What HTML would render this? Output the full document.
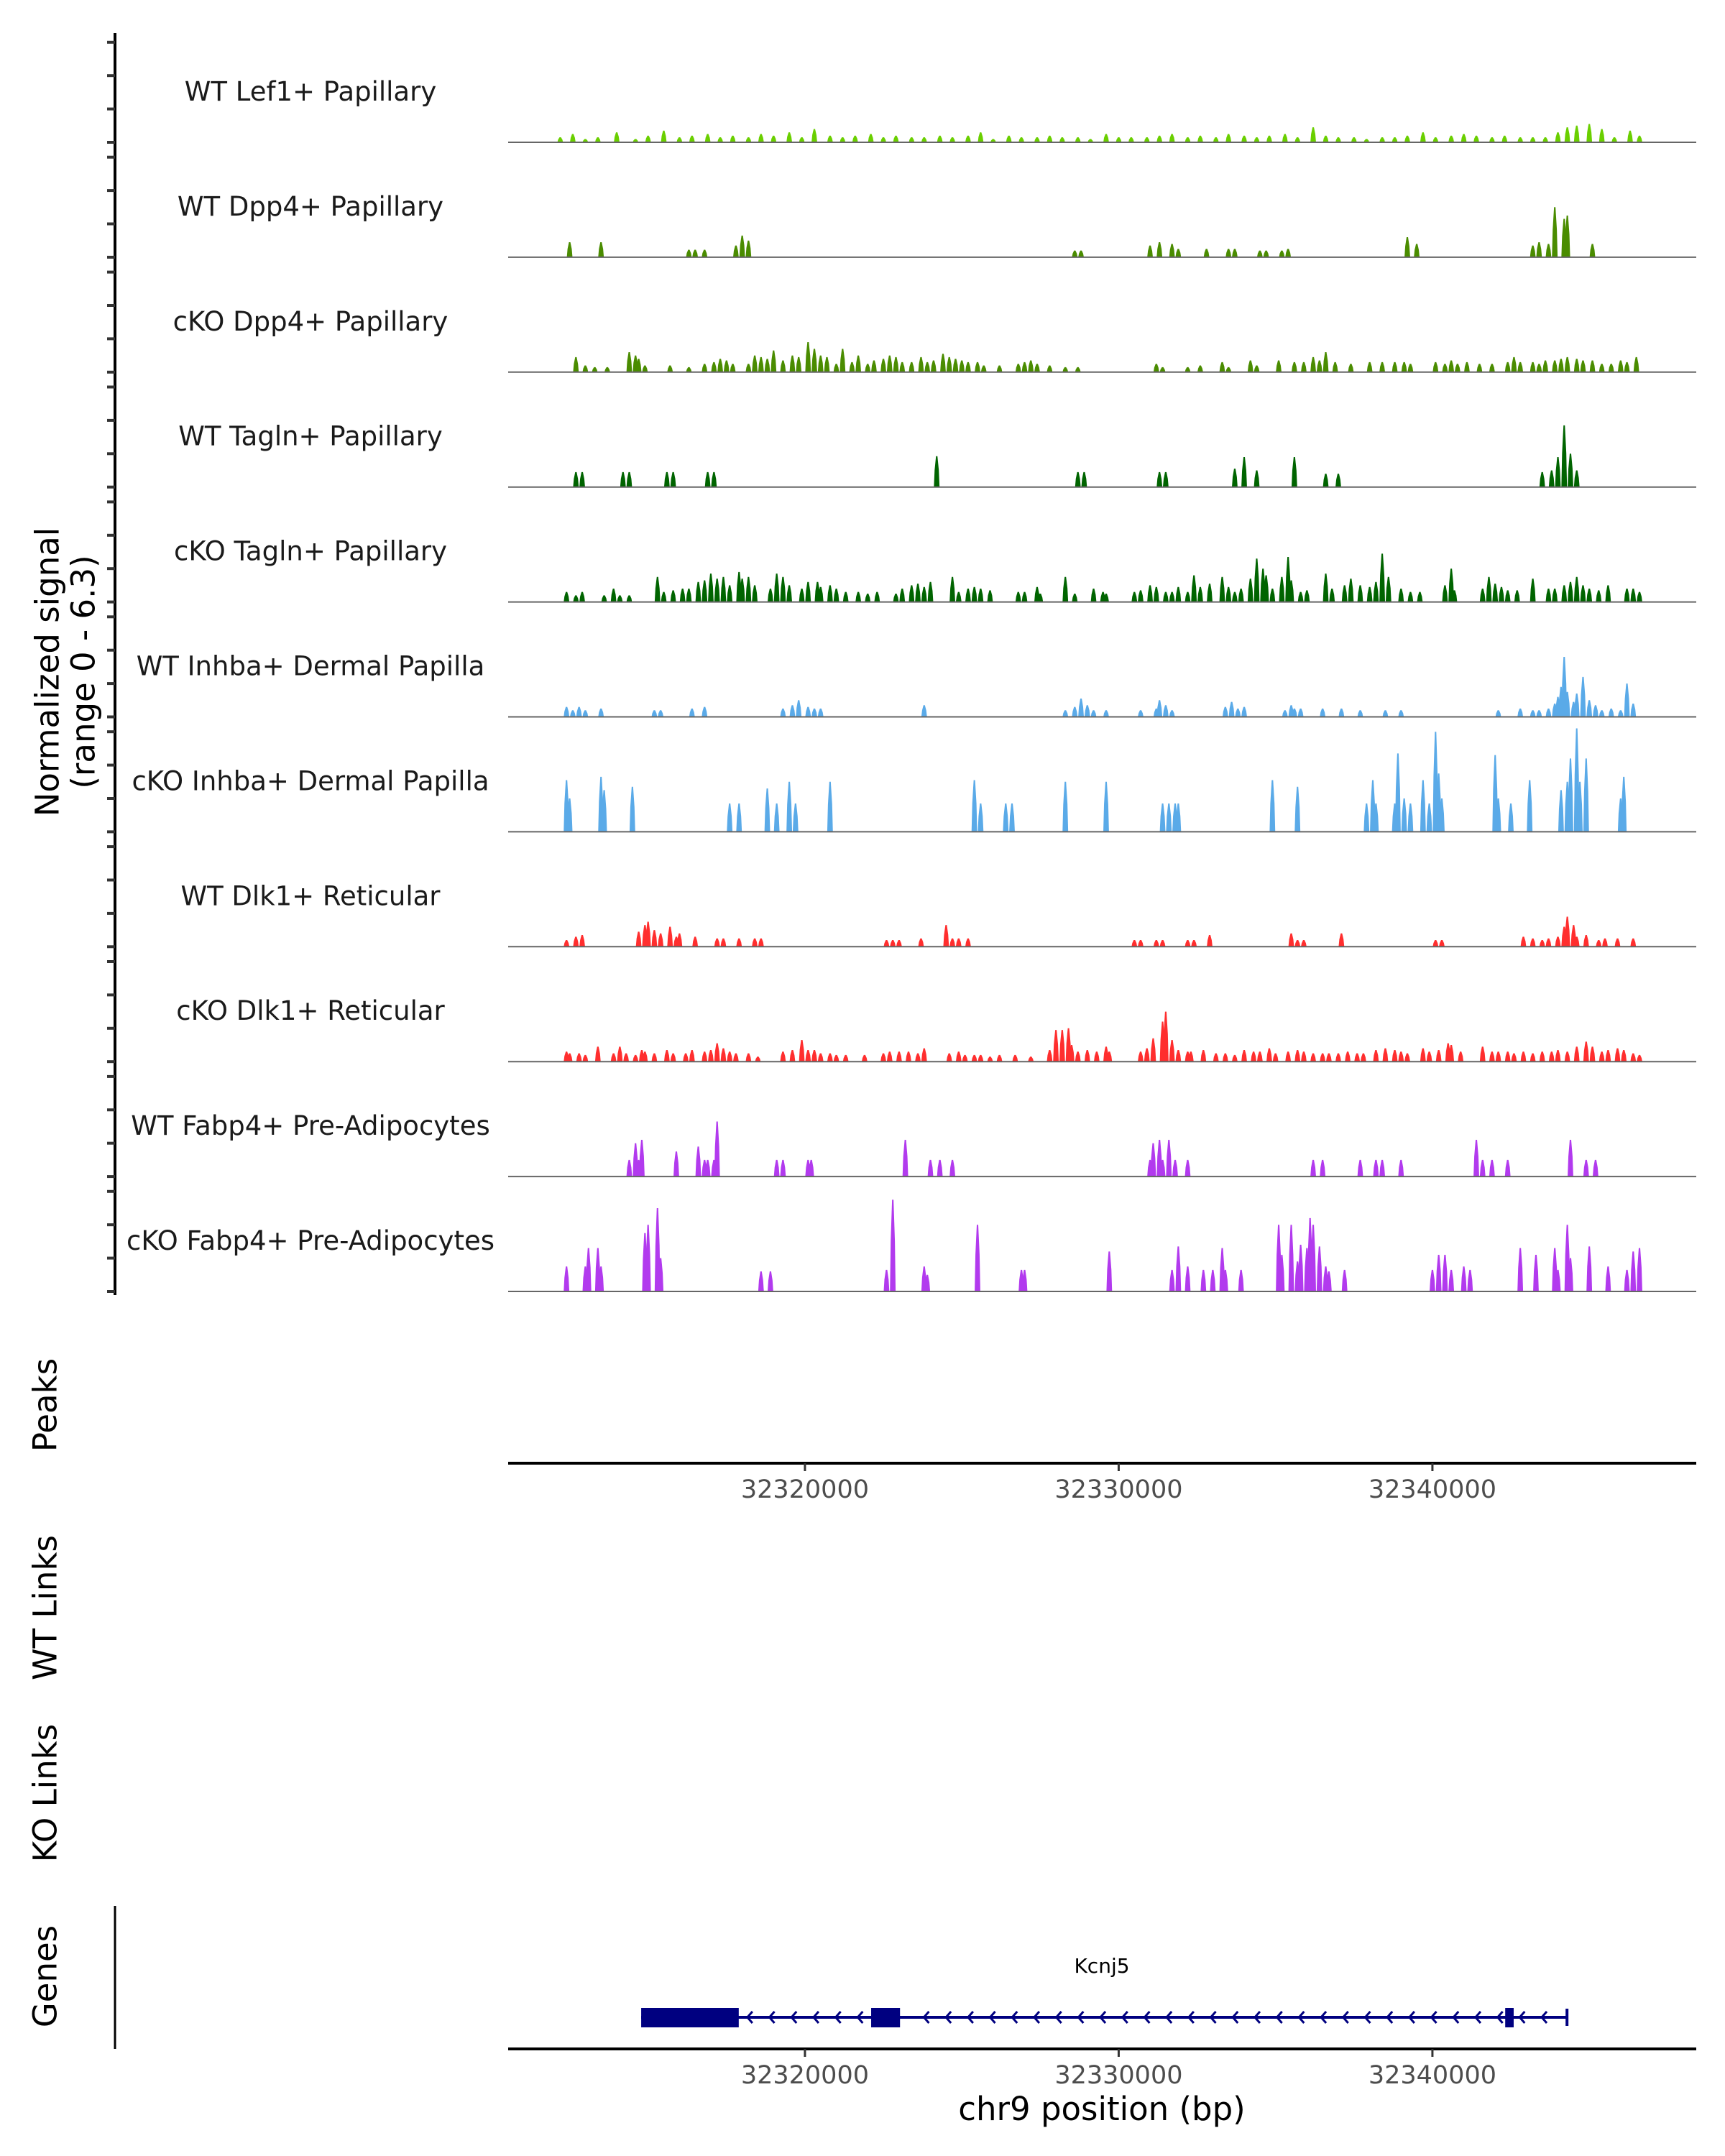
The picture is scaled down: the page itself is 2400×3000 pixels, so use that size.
<!DOCTYPE html>
<html><head><meta charset="utf-8"><title>Coverage plot Kcnj5</title>
<style>
html,body{margin:0;padding:0;background:#fff;}
svg{display:block;font-family:"DejaVu Sans","Liberation Sans",sans-serif;}
</style></head>
<body>
<svg id="chart" xmlns="http://www.w3.org/2000/svg" width="2400" height="3000" viewBox="0 0 2400 3000">
<rect x="0" y="0" width="2400" height="3000" fill="#fff"/>
<g id="tracks"></g>
<g id="axes"></g>
<g id="genes"></g>
</svg>
<script>
// ---- data (positions in kb on chr9, values are normalized signal 0-6.3) ----
const trackNames = ["WT Lef1+ Papillary","WT Dpp4+ Papillary","cKO Dpp4+ Papillary","WT Tagln+ Papillary","cKO Tagln+ Papillary","WT Inhba+ Dermal Papilla","cKO Inhba+ Dermal Papilla","WT Dlk1+ Reticular","cKO Dlk1+ Reticular","WT Fabp4+ Pre-Adipocytes","cKO Fabp4+ Pre-Adipocytes"];
const trackColors = ["#6ACF00","#4A8C00","#4A8C00","#006400","#006400","#5AAAE8","#5AAAE8","#FF2E2E","#FF2E2E","#B23AEE","#B23AEE"];
const xTicks = [32320000,32330000,32340000];
const yTickValues = [0,2,4,6];

const lef1Pos = [32312.2,32312.6,32313.0,32313.4,32314.0,32314.6,32315.0,32315.5,32316.0,32316.4,32316.9,32317.3,32317.7,32318.2,32318.6,32319.0,32319.5,32319.9,32320.3,32320.8,32321.2,32321.6,32322.1,32322.5,32322.9,32323.4,32323.8,32324.3,32324.7,32325.2,32325.6,32326.0,32326.5,32326.9,32327.4,32327.8,32328.2,32328.7,32329.1,32329.6,32330.0,32330.4,32330.9,32331.3,32331.7,32332.2,32332.6,32333.1,32333.5,32334.0,32334.4,32334.8,32335.3,32335.7,32336.2,32336.6,32337.0,32337.5,32337.9,32338.4,32338.8,32339.2,32339.7,32340.1,32340.6,32341.0,32341.4,32341.9,32342.3,32342.8,32343.2,32343.6,32344.0,32344.3,32344.6,32345.0,32345.4,32345.8,32346.3,32346.6];
const lef1Val = [.3,.5,.2,.3,.6,.2,.4,.7,.3,.4,.5,.3,.4,.3,.5,.4,.6,.3,.8,.4,.3,.4,.5,.3,.4,.3,.3,.4,.3,.4,.6,.2,.4,.3,.3,.4,.3,.3,.2,.5,.3,.3,.3,.4,.5,.3,.4,.3,.5,.4,.3,.4,.5,.3,.9,.4,.3,.3,.2,.3,.3,.4,.6,.3,.4,.5,.4,.3,.4,.3,.3,.3,.6,.9,1.0,1.1,.8,.3,.7,.4];

const wtDpp4Pos = [32312.5,32313.5,32316.3,32316.5,32316.8,32317.8,32318.0,32318.2,32328.6,32328.8,32331.0,32331.3,32331.7,32331.9,32332.8,32333.5,32333.7,32334.5,32334.7,32335.2,32335.4,32339.2,32339.5,32343.2,32343.4,32343.7,32343.9,32344.2,32344.3,32345.1];
const wtDpp4Val = [.9,.9,.45,.45,.45,.7,1.3,1.0,.4,.4,.7,.9,.8,.5,.5,.5,.5,.4,.4,.4,.5,1.2,.8,.7,.9,.8,3.0,2.3,2.5,.8];

const koDpp4Pos = [32312.7,32313.0,32313.3,32313.7,32314.4,32314.6,32314.7,32314.9,32315.7,32316.3,32316.8,32317.1,32317.3,32317.5,32317.7,32318.2,32318.4,32318.6,32318.8,32319.0,32319.3,32319.6,32319.8,32320.1,32320.3,32320.5,32320.7,32321.0,32321.2,32321.5,32321.7,32322.0,32322.2,32322.5,32322.7,32322.9,32323.1,32323.4,32323.7,32323.9,32324.1,32324.4,32324.6,32324.8,32325.0,32325.2,32325.5,32325.7,32326.2,32326.8,32327.0,32327.2,32327.4,32327.8,32328.3,32328.7,32331.2,32331.4,32332.2,32332.6,32333.3,32333.5,32334.2,32334.4,32335.1,32335.6,32335.9,32336.2,32336.4,32336.6,32336.9,32337.4,32338.0,32338.4,32338.8,32339.1,32339.3,32340.1,32340.4,32340.6,32340.8,32341.1,32341.5,32341.9,32342.4,32342.6,32342.8,32343.2,32343.4,32343.6,32343.9,32344.1,32344.3,32344.6,32344.8,32345.1,32345.4,32345.7,32346.0,32346.2,32346.5];
const koDpp4Val = [.9,.4,.3,.3,1.2,1.0,.8,.4,.4,.3,.5,.6,.8,.7,.5,.5,1.0,.9,.8,1.3,.7,1.0,.9,1.8,1.4,1.0,.9,.5,1.4,.6,1.0,.5,.7,.8,1.0,.9,.6,.6,.9,.6,.7,1.1,.9,.8,.7,.6,.6,.4,.4,.5,.6,.7,.5,.4,.3,.3,.5,.3,.3,.4,.6,.3,.7,.4,.7,.6,.6,.9,.7,1.2,.6,.5,.6,.6,.6,.6,.5,.6,.5,.7,.5,.6,.5,.5,.6,.9,.6,.6,.5,.7,.7,.8,.9,.8,.7,.7,.5,.5,.7,.6,.9];

const wtTaglnPos = [32312.7,32312.9,32314.2,32314.4,32315.6,32315.8,32316.9,32317.1,32324.2,32328.7,32328.9,32331.3,32331.5,32333.7,32334.0,32334.4,32335.6,32336.6,32337.0,32343.5,32343.8,32344.0,32344.2,32344.4,32344.6];
const wtTaglnVal = [.9,.9,.9,.9,.9,.9,.9,.9,1.85,.9,.9,.9,.9,1.1,1.8,1.0,1.8,.8,.8,.9,1.0,1.8,3.7,2.0,1.0];

const koTaglnPos = [32312.4,32312.7,32312.9,32313.6,32313.9,32314.1,32314.4,32315.3,32315.5,32315.8,32316.1,32316.3,32316.6,32316.8,32317.0,32317.2,32317.4,32317.6,32317.9,32318.0,32318.2,32318.4,32318.9,32319.1,32319.3,32319.5,32319.9,32320.1,32320.4,32320.5,32320.8,32321.0,32321.3,32321.7,32322.0,32322.3,32322.9,32323.1,32323.4,32323.6,32323.8,32324.0,32324.7,32324.9,32325.2,32325.4,32325.6,32325.9,32326.8,32327.0,32327.4,32327.5,32328.3,32328.6,32329.2,32329.5,32329.6,32330.5,32330.7,32331.0,32331.2,32331.5,32331.7,32331.9,32332.2,32332.4,32332.6,32332.9,32333.3,32333.5,32333.7,32333.9,32334.2,32334.4,32334.6,32334.7,32334.9,32335.2,32335.4,32335.5,32335.8,32336.0,32336.6,32336.8,32337.2,32337.4,32337.7,32338.0,32338.2,32338.4,32338.6,32339.0,32339.3,32339.6,32340.4,32340.6,32340.7,32341.6,32341.8,32342.0,32342.2,32342.4,32342.7,32343.2,32343.7,32343.9,32344.2,32344.4,32344.6,32344.8,32345.0,32345.3,32345.6,32346.2,32346.4,32346.6];
const koTaglnVal = [.6,.4,.6,.4,.8,.4,.4,1.5,.6,.7,.8,.8,1.2,1.3,1.7,1.4,1.5,1.0,1.8,1.4,1.5,1.0,.8,1.7,1.5,1.0,.8,1.2,1.2,.9,1.0,.8,.6,.6,.5,.6,.5,.8,1.0,1.1,.9,1.2,1.5,.6,.8,.9,.8,.7,.6,.6,.9,.5,1.5,.5,.8,.6,.5,.6,.7,1.0,.9,.6,.6,.9,.6,1.6,.9,1.1,1.5,.9,.6,.8,1.4,2.6,2.0,1.6,.8,1.5,2.7,1.3,.6,.7,1.7,.8,1.0,1.4,1.0,.9,1.2,2.9,1.5,.8,.6,.6,1.0,2.0,.7,.8,1.5,1.1,.9,.7,.7,1.4,.8,.8,1.0,1.2,1.5,1.0,.8,.7,1.0,.8,.8,.6];

const wtInhbaPos = [32312.4,32312.6,32312.8,32313.0,32313.5,32315.2,32315.4,32316.4,32316.8,32319.3,32319.6,32319.8,32320.1,32320.3,32320.5,32323.8,32328.3,32328.6,32328.8,32329.0,32329.2,32329.6,32330.7,32331.2,32331.3,32331.5,32331.7,32333.4,32333.6,32333.8,32334.0,32335.3,32335.5,32335.6,32335.8,32336.5,32337.1,32337.7,32338.5,32339.0,32342.1,32342.8,32343.2,32343.4,32343.7,32343.9,32344.0,32344.1,32344.2,32344.3,32344.5,32344.6,32344.8,32345.0,32345.2,32345.4,32345.7,32346.0,32346.2,32346.4];
const wtInhbaVal = [.6,.4,.6,.4,.5,.4,.4,.5,.6,.5,.7,1.0,.6,.5,.5,.7,.4,.6,1.1,.7,.4,.4,.4,.5,1.0,.7,.4,.6,.9,.5,.6,.4,.7,.5,.5,.5,.5,.4,.4,.4,.4,.5,.4,.4,.5,.8,1.2,1.8,3.6,1.5,.9,1.4,2.4,1.0,.7,.4,.5,.4,2.0,.8];

const koInhbaPos = [32312.4,32312.5,32313.5,32313.6,32314.5,32317.6,32317.9,32318.8,32319.1,32319.5,32319.7,32320.8,32325.4,32325.6,32326.4,32326.6,32328.3,32329.6,32331.4,32331.6,32331.8,32331.9,32334.9,32335.7,32337.9,32338.1,32338.2,32338.8,32338.9,32339.1,32339.3,32339.7,32339.9,32340.1,32340.2,32340.3,32342.0,32342.1,32342.5,32343.1,32344.1,32344.3,32344.4,32344.6,32344.7,32344.9,32346.0,32346.1];
const koInhbaVal = [3.1,2.0,3.3,2.5,2.7,1.7,1.7,2.6,1.7,3.0,1.7,3.0,3.1,1.7,1.7,1.7,3.0,3.0,1.7,1.7,1.7,1.7,3.1,2.7,1.7,3.1,1.7,1.7,4.7,2.0,1.7,3.1,1.7,6.0,3.5,2.0,4.6,2.0,1.7,3.1,2.5,3.0,4.4,6.2,3.0,4.4,2.0,3.3];

const wtDlk1Pos = [32312.4,32312.7,32312.9,32314.7,32314.9,32315.0,32315.2,32315.4,32315.7,32315.9,32316.0,32316.5,32317.2,32317.4,32317.9,32318.4,32318.6,32322.6,32322.8,32323.0,32323.7,32324.5,32324.7,32324.9,32325.2,32330.5,32330.7,32331.2,32331.4,32332.2,32332.4,32332.9,32335.5,32335.7,32335.9,32337.1,32340.1,32340.3,32342.9,32343.2,32343.5,32343.7,32344.0,32344.2,32344.3,32344.5,32344.6,32344.9,32345.3,32345.5,32345.9,32346.4];
const wtDlk1Val = [.4,.6,.7,.9,1.3,1.5,1.0,.8,1.2,.6,.8,.6,.5,.5,.5,.5,.5,.4,.4,.4,.5,1.3,.5,.5,.5,.4,.4,.4,.4,.4,.4,.7,.8,.4,.4,.8,.4,.4,.6,.5,.4,.5,.6,1.2,1.8,1.3,.6,.7,.4,.5,.5,.5];

const koDlk1Pos = [32312.4,32312.5,32312.8,32313.0,32313.4,32313.9,32314.1,32314.3,32314.6,32314.8,32314.9,32315.2,32315.6,32315.8,32316.2,32316.4,32316.8,32317.0,32317.2,32317.4,32317.6,32317.8,32318.2,32318.5,32319.3,32319.6,32319.9,32320.1,32320.3,32320.5,32320.8,32321.0,32321.3,32321.9,32322.5,32322.7,32323.0,32323.3,32323.6,32323.8,32324.6,32324.9,32325.1,32325.4,32325.6,32325.9,32326.2,32326.7,32327.2,32327.8,32328.0,32328.2,32328.4,32328.5,32328.7,32329.0,32329.3,32329.6,32329.7,32330.7,32330.9,32331.1,32331.4,32331.5,32331.7,32331.9,32332.2,32332.3,32332.7,32333.1,32333.4,32333.7,32334.0,32334.3,32334.5,32334.8,32335.0,32335.4,32335.7,32335.9,32336.2,32336.5,32336.7,32337.0,32337.3,32337.6,32337.8,32338.2,32338.5,32338.8,32339.0,32339.2,32339.7,32339.9,32340.2,32340.5,32340.6,32340.9,32341.6,32341.9,32342.1,32342.4,32342.6,32342.9,32343.2,32343.5,32343.8,32344.0,32344.3,32344.6,32344.9,32345.1,32345.4,32345.6,32345.9,32346.1,32346.4,32346.6];
const koDlk1Val = [.6,.5,.5,.4,.9,.5,.9,.5,.4,.7,.6,.5,.7,.5,.5,.7,.6,.7,1.1,.8,.6,.5,.5,.3,.6,.7,1.3,.7,.7,.5,.5,.4,.4,.4,.5,.6,.6,.6,.5,.8,.5,.6,.4,.4,.4,.3,.4,.4,.3,.7,1.9,1.9,2.0,1.0,.6,.7,.6,.9,.6,.6,.8,1.4,2.4,3.0,1.3,.7,.6,.6,.7,.5,.5,.4,.7,.6,.6,.8,.5,.6,.7,.6,.5,.5,.5,.5,.6,.5,.5,.7,.8,.7,.6,.5,.8,.6,.7,1.1,1.0,.6,.9,.6,.6,.6,.5,.6,.5,.6,.6,.7,.6,.9,1.2,.9,.6,.7,.8,.7,.5,.4];

const wtFabp4Pos = [32314.4,32314.6,32314.7,32314.8,32315.9,32316.6,32316.8,32316.9,32317.1,32317.2,32319.1,32319.3,32320.1,32320.2,32323.2,32324.0,32324.3,32324.7,32331.0,32331.1,32331.3,32331.4,32331.6,32331.8,32332.2,32336.2,32336.5,32337.7,32338.2,32338.4,32339.0,32341.4,32341.6,32341.9,32342.4,32344.4,32344.9,32345.2];
const wtFabp4Val = [1.0,2.0,1.0,2.2,1.5,1.8,1.0,1.0,1.0,3.3,1.0,1.0,1.0,1.0,2.2,1.0,1.0,1.0,1.0,2.0,2.2,1.0,2.2,1.0,1.0,1.0,1.0,1.0,1.0,1.0,1.0,2.2,1.0,1.0,1.0,2.2,1.0,1.0];

const koFabp4Pos = [32312.4,32313.0,32313.1,32313.4,32313.5,32314.9,32315.0,32315.3,32315.4,32318.6,32318.9,32322.6,32322.8,32323.8,32323.9,32325.5,32326.9,32327.0,32329.7,32331.7,32331.9,32332.2,32332.7,32333.0,32333.3,32333.4,32333.9,32335.1,32335.2,32335.5,32335.7,32335.8,32336.0,32336.1,32336.2,32336.4,32336.6,32336.7,32337.2,32340.0,32340.2,32340.4,32340.6,32341.0,32341.2,32342.8,32343.3,32343.9,32344.0,32344.3,32344.4,32345.0,32345.6,32346.2,32346.4,32346.6];
const koFabp4Val = [1.5,1.5,2.6,2.6,1.5,3.5,4.0,5.0,2.0,1.2,1.2,1.3,5.5,1.5,1.0,4.0,1.3,1.3,2.4,1.3,2.7,1.5,1.3,1.3,2.6,1.3,1.3,4.0,2.2,4.0,1.8,2.8,2.6,4.4,4.0,2.7,1.5,1.2,1.3,1.3,2.2,2.2,1.3,1.5,1.3,2.6,2.2,2.6,1.3,4.0,2.0,2.7,1.5,1.3,2.4,2.6];

const trackPos = [lef1Pos,wtDpp4Pos,koDpp4Pos,wtTaglnPos,koTaglnPos,wtInhbaPos,koInhbaPos,wtDlk1Pos,koDlk1Pos,wtFabp4Pos,koFabp4Pos];
const trackVal = [lef1Val,wtDpp4Val,koDpp4Val,wtTaglnVal,koTaglnVal,wtInhbaVal,koInhbaVal,wtDlk1Val,koDlk1Val,wtFabp4Val,koFabp4Val];

// gene model (kb)
const geneName = "Kcnj5";
const geneStart = 32314.78, geneEnd = 32344.29;
const exonStarts = [32314.78,32322.11,32342.32];
const exonEnds = [32317.89,32323.03,32342.59];

// ---- scales ----
const NS = "http://www.w3.org/2000/svg";
const X0 = 707, X1 = 2360, KB0 = 32310.54, PXPERKB = 43.65;
function xs(kb){ return X0 + (kb - KB0) * PXPERKB; }
const BASE0 = 198, TRACKSTEP = 159.9, PXPERUNIT = 23.2;
function baseY(i){ return BASE0 + i * TRACKSTEP; }
function ys(i, v){ return baseY(i) - v * PXPERUNIT; }
function mk(tag, attrs, parent){
  const e = document.createElementNS(NS, tag);
  for (const k in attrs) e.setAttribute(k, attrs[k]);
  parent.appendChild(e); return e;
}

const gT = document.getElementById('tracks');
const gA = document.getElementById('axes');
const gG = document.getElementById('genes');

for (let i = 0; i < trackNames.length; i++){
  const g = mk('g', {}, gT);
  
  
  const lab = mk('text', {x: 432, y: baseY(i) - 58, 'font-size': 37, 'text-anchor': 'middle', fill: '#1a1a1a'}, g);
  lab.textContent = trackNames[i];
  
  
  const P = trackPos[i], V = trackVal[i];
  const n = Math.min(P.length, V.length);
  const hw = 0.09;
  for (let j = 0; j < n; j++){
    const xl = xs(P[j] - hw), xr = xs(P[j] + hw), xm = xs(P[j]);
    const yb = baseY(i), yt = ys(i, V[j]), ymid = ys(i, V[j] * 0.55);
    const pts = `${xl},${yb} ${xl+1},${ymid} ${xm-1},${yt} ${xm+1},${yt} ${xr-1},${ymid} ${xr},${yb}`;
    const p = mk('polygon', {points: pts, fill: trackColors[i]}, g);
    
    
  }
  const bl = mk('line', {x1: X0, x2: X1, y1: baseY(i), y2: baseY(i), stroke: '#666', 'stroke-width': 2}, g);
  
  
}

const ya = mk('line', {x1: 160, x2: 160, y1: 46, y2: 1802, stroke: '#000', 'stroke-width': 4}, gA);


for (let i = 0; i < trackNames.length; i++){
  for (const v of yTickValues){
    const t = mk('line', {x1: 149, x2: 160, y1: ys(i, v), y2: ys(i, v), stroke: '#333', 'stroke-width': 4}, gA);
    
    
  }
}
function vtext(txt, cx, cy, name, size){
  const t = mk('text', {x: 0, y: 0, 'font-size': size, 'text-anchor': 'middle', 'dominant-baseline': 'central', fill: '#000', transform: `translate(${cx},${cy}) rotate(-90)`}, gA);
  t.textContent = txt;
  
  
}
vtext('Normalized signal', 66, 935, 'y-axis-title', 45);
vtext('(range 0 - 6.3)', 116, 935, 'y-axis-subtitle', 45);
vtext('Peaks', 63, 1955, 'peaks-track-title', 45);
vtext('WT Links', 63, 2237, 'wt-links-track-title', 45);
vtext('KO Links', 63, 2495, 'ko-links-track-title', 45);
vtext('Genes', 63, 2750, 'genes-track-title', 45);

function xAxis(y, name){
  const l = mk('line', {x1: X0, x2: X1, y1: y, y2: y, stroke: '#000', 'stroke-width': 4}, gA);
  
  
  for (const t of xTicks){
    const x = xs(t / 1000);
    const tk = mk('line', {x1: x, x2: x, y1: y, y2: y + 11, stroke: '#333', 'stroke-width': 3}, gA);
    
    
    const tl = mk('text', {x: x, y: y + 48, 'font-size': 35, 'text-anchor': 'middle', fill: '#4d4d4d'}, gA);
    tl.textContent = String(t);
    
    
  }
}
xAxis(2036, 'peaks-x-axis');
xAxis(2851, 'genes-x-axis');
const xt = mk('text', {x: 1533, y: 2950, 'font-size': 45, 'text-anchor': 'middle', fill: '#000'}, gA);
xt.textContent = 'chr9 position (bp)';


const ga = mk('line', {x1: 160, x2: 160, y1: 2652, y2: 2851, stroke: '#000', 'stroke-width': 3}, gA);



const GY = 2807;
const gl = mk('line', {x1: xs(geneStart), x2: xs(geneEnd), y1: GY, y2: GY, stroke: '#000080', 'stroke-width': 4}, gG);


for (let k = 0; k < exonStarts.length; k++){
  const r = mk('rect', {x: xs(exonStarts[k]), y: GY - 13, width: xs(exonEnds[k]) - xs(exonStarts[k]), height: 27, fill: '#000080'}, gG);
  
  
}
for (let x = xs(exonEnds[0]) + 14; x < xs(geneEnd) - 4; x += 30.7){
  let inside = false;
  for (let k = 0; k < exonStarts.length; k++){ if (x > xs(exonStarts[k]) - 6 && x < xs(exonEnds[k]) + 8) inside = true; }
  if (inside) continue;
  const c = mk('polyline', {points: `${x+5},${GY-8} ${x-2},${GY} ${x+5},${GY+8}`, fill: 'none', stroke: '#000080', 'stroke-width': 3}, gG);
  
  
}
const endBar = mk('line', {x1: xs(geneEnd), x2: xs(geneEnd), y1: GY - 12, y2: GY + 12, stroke: '#000080', 'stroke-width': 4}, gG);


const gn = mk('text', {x: 1533, y: 2745, 'font-size': 28, 'text-anchor': 'middle', fill: '#000'}, gG);
gn.textContent = geneName;


</script>
</body></html>
